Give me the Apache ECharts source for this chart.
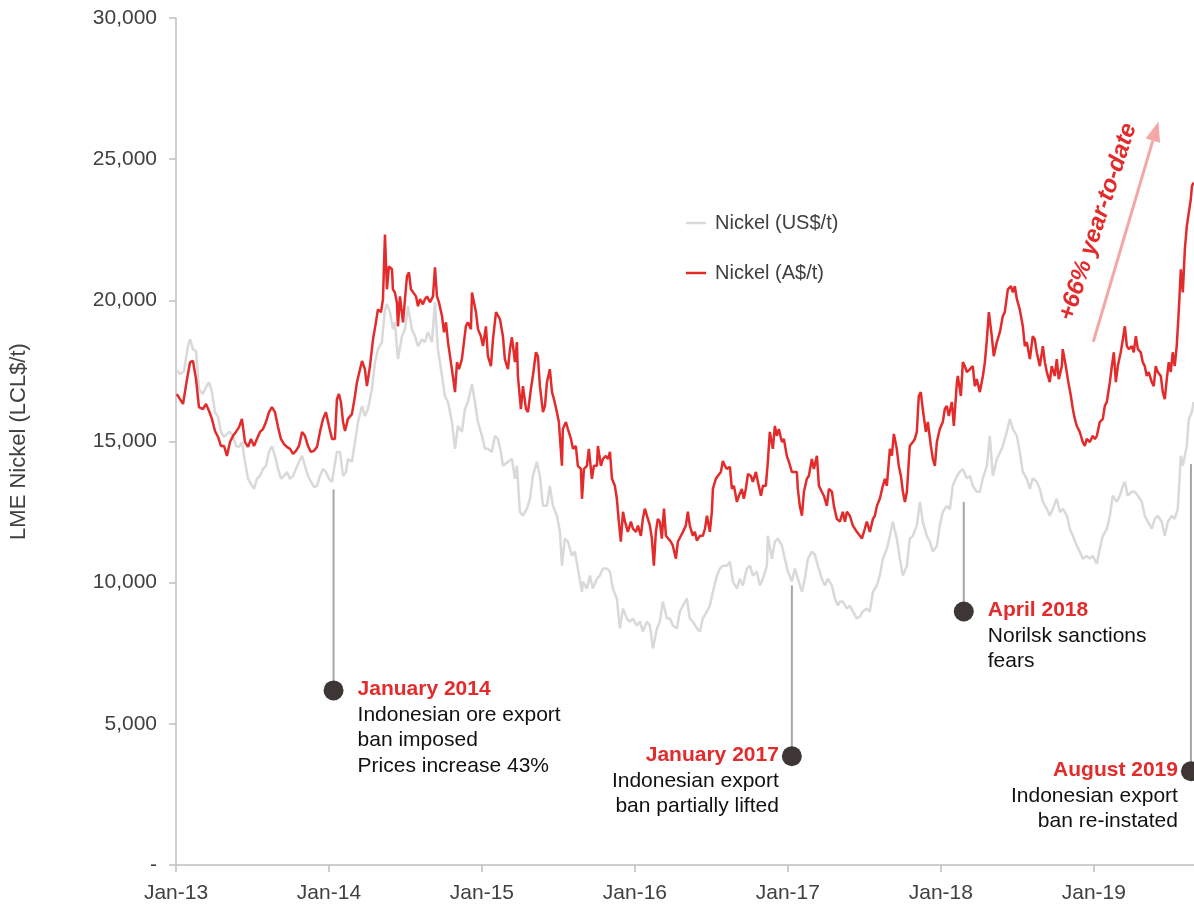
<!DOCTYPE html>
<html><head><meta charset="utf-8">
<script src="https://cdn.jsdelivr.net/npm/echarts@6/dist/echarts.min.js"></script>
<style>html,body{margin:0;padding:0;background:#fff}#c{width:1194px;height:904px}</style>
</head><body><div id="c"></div>
<script>
// ---- data (x = decimal year, y = LCL$/t) ----
const yearTicks = [2013, 2014, 2015, 2016, 2017, 2018, 2019];
const seriesNames = ['Nickel (US$/t)', 'Nickel (A$/t)'];

const usdNickel = [
[2013.000,17560],[2013.026,17390],[2013.052,17490],[2013.078,18380],[2013.092,18620],[2013.111,18270],[2013.131,18200],[2013.150,16860],[2013.176,16680],[2013.196,16930],[2013.216,17100],[2013.235,16750],[2013.255,16040],[2013.275,15870],[2013.294,15340],[2013.314,15160],[2013.333,15270],[2013.353,15340],[2013.373,15200],[2013.392,14840],[2013.412,14810],[2013.431,14980],[2013.451,14280],[2013.471,13680],[2013.490,13500],[2013.510,13320],[2013.529,13680],[2013.549,13780],[2013.569,14030],[2013.588,14140],[2013.608,14630],[2013.627,14840],[2013.647,14490],[2013.667,14030],[2013.686,13680],[2013.706,13780],[2013.725,13920],[2013.745,13680],[2013.765,13780],[2013.784,14030],[2013.804,14280],[2013.824,14490],[2013.843,14140],[2013.863,13780],[2013.882,13570],[2013.902,13390],[2013.922,13430],[2013.941,13780],[2013.961,14030],[2013.980,13920],[2014.000,13680],[2014.020,13570],[2014.033,14030],[2014.052,14630],[2014.072,14630],[2014.092,13780],[2014.111,13920],[2014.124,14380],[2014.150,14280],[2014.170,14980],[2014.190,15690],[2014.216,16260],[2014.235,15900],[2014.255,16150],[2014.281,16860],[2014.301,17810],[2014.320,18270],[2014.346,18520],[2014.366,19680],[2014.379,19860],[2014.399,19580],[2014.418,18980],[2014.431,19220],[2014.451,17920],[2014.477,18730],[2014.497,18980],[2014.516,19790],[2014.542,18980],[2014.562,18730],[2014.582,18380],[2014.608,18620],[2014.627,18520],[2014.647,18870],[2014.673,18520],[2014.693,19930],[2014.712,18270],[2014.739,17320],[2014.758,16610],[2014.778,16400],[2014.804,15690],[2014.824,14740],[2014.843,15550],[2014.869,15340],[2014.889,16150],[2014.908,16400],[2014.935,17030],[2014.954,16400],[2014.974,15690],[2015.000,15200],[2015.020,14740],[2015.039,14740],[2015.065,14630],[2015.085,15200],[2015.105,15090],[2015.124,14630],[2015.137,14140],[2015.170,14280],[2015.196,14380],[2015.216,13680],[2015.229,14140],[2015.248,12510],[2015.268,12370],[2015.294,12620],[2015.314,12970],[2015.333,13780],[2015.359,14280],[2015.379,13780],[2015.399,12720],[2015.425,12720],[2015.444,13430],[2015.464,12720],[2015.490,12370],[2015.510,11800],[2015.523,10600],[2015.542,11560],[2015.562,11450],[2015.588,10960],[2015.608,11100],[2015.627,10500],[2015.654,9680],[2015.660,10040],[2015.686,9790],[2015.706,10250],[2015.725,9790],[2015.752,10140],[2015.771,10250],[2015.791,10500],[2015.817,10500],[2015.837,10390],[2015.856,9790],[2015.882,9440],[2015.902,8380],[2015.922,9080],[2015.948,8730],[2015.967,8620],[2015.987,8730],[2016.013,8480],[2016.033,8620],[2016.052,8270],[2016.078,8620],[2016.098,8480],[2016.118,7670],[2016.144,8380],[2016.163,8620],[2016.183,9330],[2016.209,8730],[2016.229,8730],[2016.248,8480],[2016.275,8380],[2016.294,8980],[2016.314,9190],[2016.340,9440],[2016.359,8730],[2016.379,8620],[2016.405,8380],[2016.425,8270],[2016.444,8730],[2016.471,8980],[2016.490,9190],[2016.510,9680],[2016.536,10250],[2016.556,10500],[2016.575,10600],[2016.601,10600],[2016.621,10740],[2016.641,10040],[2016.667,9790],[2016.686,10140],[2016.706,9900],[2016.732,10500],[2016.752,10600],[2016.771,10250],[2016.797,10390],[2016.817,9900],[2016.837,10140],[2016.863,10600],[2016.869,11660],[2016.895,10850],[2016.915,11450],[2016.935,11560],[2016.961,11310],[2016.980,10850],[2017.000,10390],[2017.026,10040],[2017.046,10500],[2017.065,10140],[2017.092,9680],[2017.111,10140],[2017.131,10850],[2017.157,11100],[2017.176,11000],[2017.196,10600],[2017.222,10140],[2017.242,9900],[2017.261,10140],[2017.288,9900],[2017.307,9440],[2017.327,9190],[2017.340,9330],[2017.359,9330],[2017.386,9080],[2017.405,9190],[2017.425,8980],[2017.451,8730],[2017.471,8800],[2017.490,8980],[2017.516,9080],[2017.536,8980],[2017.556,9680],[2017.582,9900],[2017.601,10250],[2017.621,10850],[2017.647,11200],[2017.667,11660],[2017.686,12160],[2017.712,11560],[2017.732,10850],[2017.752,10250],[2017.778,10600],[2017.797,11560],[2017.817,11660],[2017.843,12020],[2017.863,12860],[2017.882,12160],[2017.908,11660],[2017.928,11450],[2017.948,11100],[2017.974,11300],[2017.993,12020],[2018.013,12510],[2018.039,12720],[2018.059,12600],[2018.078,13430],[2018.105,13780],[2018.124,13920],[2018.144,14030],[2018.170,13700],[2018.190,13780],[2018.209,13430],[2018.235,13220],[2018.255,13220],[2018.275,13700],[2018.301,14140],[2018.320,15200],[2018.340,13780],[2018.366,14380],[2018.386,14600],[2018.405,14840],[2018.431,15340],[2018.451,15800],[2018.471,15440],[2018.497,15200],[2018.516,14630],[2018.536,13920],[2018.562,13680],[2018.582,13320],[2018.601,13700],[2018.627,13570],[2018.647,13320],[2018.667,12860],[2018.693,12620],[2018.712,12370],[2018.732,12620],[2018.758,12970],[2018.778,12500],[2018.797,12620],[2018.824,12370],[2018.843,11910],[2018.863,11660],[2018.889,11310],[2018.908,11100],[2018.928,10850],[2018.954,10950],[2018.974,10850],[2018.993,10950],[2019.020,10670],[2019.039,11200],[2019.059,11660],[2019.085,11900],[2019.105,12370],[2019.124,13080],[2019.150,12860],[2019.170,13080],[2019.190,13430],[2019.203,13570],[2019.222,13080],[2019.248,13220],[2019.268,13220],[2019.288,13080],[2019.314,12860],[2019.333,12370],[2019.353,12160],[2019.379,11910],[2019.399,12260],[2019.418,12370],[2019.444,12160],[2019.464,11660],[2019.484,12160],[2019.510,12370],[2019.529,12260],[2019.549,12620],[2019.569,14490],[2019.582,14140],[2019.608,14840],[2019.621,15800],[2019.641,16040],[2019.652,16400]
];

const audNickel = [
[2013.005,16680],[2013.026,16500],[2013.046,16330],[2013.072,17210],[2013.092,17810],[2013.111,17850],[2013.131,17210],[2013.150,16220],[2013.176,16150],[2013.196,16330],[2013.216,16080],[2013.235,15800],[2013.255,15370],[2013.275,15160],[2013.294,14840],[2013.314,14840],[2013.333,14490],[2013.353,14980],[2013.373,15200],[2013.392,15340],[2013.412,15510],[2013.431,15800],[2013.451,14980],[2013.471,14810],[2013.490,15090],[2013.510,14840],[2013.529,15090],[2013.549,15340],[2013.569,15440],[2013.588,15690],[2013.608,16040],[2013.627,16220],[2013.647,16040],[2013.667,15510],[2013.686,15090],[2013.706,14910],[2013.725,14810],[2013.745,14740],[2013.765,14560],[2013.784,14670],[2013.804,14840],[2013.824,15340],[2013.843,15200],[2013.863,14840],[2013.882,14630],[2013.902,14670],[2013.922,14810],[2013.941,15340],[2013.961,15800],[2013.980,16040],[2014.000,15550],[2014.020,15090],[2014.039,15090],[2014.052,16500],[2014.065,16680],[2014.078,16400],[2014.092,15690],[2014.105,15370],[2014.124,15800],[2014.150,15970],[2014.170,16610],[2014.183,17100],[2014.203,17560],[2014.216,17850],[2014.235,17560],[2014.248,16960],[2014.268,17670],[2014.288,18620],[2014.307,19220],[2014.320,19680],[2014.340,19580],[2014.353,20040],[2014.366,22330],[2014.379,20390],[2014.392,21200],[2014.412,21100],[2014.418,20390],[2014.431,20280],[2014.444,19930],[2014.451,19080],[2014.464,20140],[2014.484,19220],[2014.497,20040],[2014.510,20850],[2014.523,20990],[2014.536,20390],[2014.549,20390],[2014.569,20140],[2014.582,19790],[2014.595,20040],[2014.614,19860],[2014.627,20040],[2014.641,20140],[2014.660,19930],[2014.680,20140],[2014.693,21170],[2014.706,20140],[2014.719,19930],[2014.739,19440],[2014.752,18870],[2014.765,19220],[2014.778,18520],[2014.797,17810],[2014.810,17320],[2014.824,16750],[2014.837,17810],[2014.850,17560],[2014.869,17920],[2014.882,17920],[2014.895,19080],[2014.908,19220],[2014.928,18980],[2014.935,20280],[2014.948,19930],[2014.961,19580],[2014.974,18980],[2014.993,18730],[2015.007,18380],[2015.026,19080],[2015.039,18020],[2015.059,17670],[2015.072,18620],[2015.092,19580],[2015.098,19610],[2015.118,19330],[2015.137,18730],[2015.150,17920],[2015.170,17560],[2015.183,18270],[2015.196,18690],[2015.216,17810],[2015.229,18520],[2015.235,17320],[2015.255,16150],[2015.268,16960],[2015.288,16150],[2015.301,16040],[2015.320,16860],[2015.333,17320],[2015.353,18160],[2015.366,18020],[2015.379,16960],[2015.399,16040],[2015.412,16260],[2015.425,17100],[2015.444,17560],[2015.458,16750],[2015.471,16500],[2015.490,16040],[2015.503,15690],[2015.523,14140],[2015.529,15440],[2015.549,15690],[2015.562,15440],[2015.582,15090],[2015.595,14740],[2015.614,14840],[2015.627,14140],[2015.647,14030],[2015.654,12970],[2015.667,14030],[2015.686,14140],[2015.699,14740],[2015.719,13680],[2015.732,14140],[2015.752,14140],[2015.758,14840],[2015.778,14140],[2015.791,14380],[2015.810,14490],[2015.824,14380],[2015.837,14630],[2015.850,13680],[2015.869,13430],[2015.882,12970],[2015.895,12160],[2015.908,11450],[2015.922,12510],[2015.935,12160],[2015.954,11800],[2015.974,12160],[2015.987,11910],[2016.007,11800],[2016.020,12020],[2016.039,11660],[2016.052,12260],[2016.065,12620],[2016.085,12260],[2016.098,12020],[2016.111,11560],[2016.124,10600],[2016.137,11800],[2016.150,12260],[2016.163,12160],[2016.176,11560],[2016.190,12620],[2016.203,11660],[2016.216,11660],[2016.235,11450],[2016.248,11310],[2016.268,10850],[2016.281,11450],[2016.301,11660],[2016.314,11800],[2016.333,12020],[2016.346,12510],[2016.359,12020],[2016.379,11660],[2016.392,11800],[2016.405,11490],[2016.425,11660],[2016.444,11660],[2016.458,11910],[2016.471,12370],[2016.490,11800],[2016.503,12510],[2016.510,13320],[2016.529,13680],[2016.542,13780],[2016.562,13920],[2016.575,14310],[2016.588,14140],[2016.601,14030],[2016.621,14100],[2016.634,13320],[2016.647,13430],[2016.667,12860],[2016.680,13080],[2016.699,13320],[2016.712,12970],[2016.725,13320],[2016.739,13850],[2016.758,13780],[2016.771,13570],[2016.791,13920],[2016.804,13570],[2016.824,13080],[2016.837,13430],[2016.856,13430],[2016.869,14280],[2016.882,15340],[2016.902,14740],[2016.915,15550],[2016.928,15200],[2016.941,15440],[2016.961,14980],[2016.974,15090],[2016.993,14490],[2017.007,14280],[2017.026,13920],[2017.039,13920],[2017.059,13920],[2017.065,13320],[2017.078,12720],[2017.092,12370],[2017.105,13220],[2017.124,13680],[2017.137,13780],[2017.157,14380],[2017.170,14030],[2017.190,14490],[2017.203,13430],[2017.222,13220],[2017.235,13080],[2017.255,12720],[2017.268,13320],[2017.288,13220],[2017.301,12720],[2017.320,12260],[2017.340,12160],[2017.359,12510],[2017.373,12160],[2017.386,12510],[2017.405,12370],[2017.425,12020],[2017.438,11910],[2017.451,11800],[2017.471,11660],[2017.484,11560],[2017.503,11910],[2017.516,12160],[2017.536,11800],[2017.556,12260],[2017.569,12370],[2017.582,12720],[2017.601,12970],[2017.621,13430],[2017.634,13680],[2017.647,13430],[2017.667,14740],[2017.680,14500],[2017.693,15270],[2017.712,14740],[2017.725,14140],[2017.739,13780],[2017.752,13220],[2017.765,12860],[2017.778,13220],[2017.797,14840],[2017.817,14980],[2017.830,15090],[2017.843,15340],[2017.856,16610],[2017.869,16750],[2017.882,16150],[2017.902,15340],[2017.915,15690],[2017.935,14840],[2017.948,14380],[2017.961,14140],[2017.974,14980],[2017.993,15440],[2018.013,15690],[2018.026,16150],[2018.039,16260],[2018.052,15900],[2018.072,16400],[2018.085,15550],[2018.105,17100],[2018.111,17320],[2018.131,16610],[2018.144,17810],[2018.157,17670],[2018.170,17460],[2018.190,17560],[2018.209,17670],[2018.222,16960],[2018.235,17210],[2018.255,16750],[2018.275,17320],[2018.288,17810],[2018.301,18620],[2018.314,19580],[2018.333,18730],[2018.346,18020],[2018.366,18520],[2018.386,18870],[2018.405,19440],[2018.418,19580],[2018.438,20390],[2018.458,20500],[2018.471,20280],[2018.484,20500],[2018.497,20040],[2018.516,19680],[2018.536,19080],[2018.549,18380],[2018.562,18520],[2018.582,17920],[2018.601,18730],[2018.614,18620],[2018.627,18160],[2018.647,17670],[2018.667,18380],[2018.680,17810],[2018.693,17460],[2018.712,17100],[2018.725,17670],[2018.745,17320],[2018.758,17920],[2018.771,17210],[2018.791,17670],[2018.797,18270],[2018.817,17670],[2018.830,17210],[2018.850,16610],[2018.863,16150],[2018.876,15800],[2018.889,15550],[2018.908,15340],[2018.928,14980],[2018.941,14840],[2018.954,15090],[2018.974,14980],[2018.993,15200],[2019.007,15090],[2019.020,15200],[2019.039,15690],[2019.059,15800],[2019.072,16260],[2019.085,16400],[2019.105,17100],[2019.118,17670],[2019.131,18160],[2019.144,17100],[2019.157,17670],[2019.176,18160],[2019.190,18620],[2019.203,19080],[2019.216,18380],[2019.229,18270],[2019.248,18380],[2019.261,18160],[2019.275,18730],[2019.288,18270],[2019.307,18160],[2019.320,17810],[2019.333,17670],[2019.346,17320],[2019.359,17460],[2019.379,17100],[2019.392,16960],[2019.405,17670],[2019.418,17460],[2019.438,17320],[2019.451,16750],[2019.464,16500],[2019.477,17210],[2019.490,17810],[2019.503,17460],[2019.516,18160],[2019.529,17670],[2019.542,18380],[2019.556,19680],[2019.569,21100],[2019.582,20280],[2019.595,21800],[2019.608,22620],[2019.621,23110],[2019.634,23570],[2019.641,24030],[2019.652,24170]
];

// event annotations: x = decimal year, top/dot = value where the leader line starts / dot sits
const notes = [
  { t: 2014.030, top: 13300, dot: 6185, side: 'right', title: 'January 2014', lines: ['Indonesian ore export', 'ban imposed', 'Prices increase 43%'] },
  { t: 2017.026, top: 9900,  dot: 3850, side: 'left',  title: 'January 2017', lines: ['Indonesian export', 'ban partially lifted'] },
  { t: 2018.150, top: 12860, dot: 8980, side: 'right', title: 'April 2018',   lines: ['Norilsk sanctions', 'fears'] },
  { t: 2019.635, top: 14200, dot: 3320, side: 'left',  title: 'August 2019',  lines: ['Indonesian export', 'ban re-instated'] }
];
const ytdLabel = '+66% year-to-date';

// ---- chart ----
const F = "'Liberation Sans', Arial, sans-serif";
const FN = "'Liberation Sans Narrow', 'Arial Narrow', 'Liberation Sans', sans-serif";
const RED = '#e32b2b', GREY = '#d9d9d9', AXIS = '#bfbfbf', TXT = '#404040';

const chart = echarts.init(document.getElementById('c'), null, { renderer: 'canvas' });
chart.setOption({
  animation: false,
  backgroundColor: '#fff',
  grid: { left: 176, right: 0, top: 18, bottom: 37, containLabel: false },
  legend: {
    orient: 'vertical', left: 681, top: 208, itemGap: 30,
    icon: 'rect', itemWidth: 20, itemHeight: 2.5,
    data: seriesNames,
    textStyle: { fontFamily: F, fontSize: 20, color: TXT, padding: [0, 0, 0, 4] }
  },
  xAxis: {
    type: 'value', min: 2013, max: 2019.655, interval: 1,
    splitLine: { show: false },
    axisLine: { show: true, lineStyle: { color: AXIS, width: 1.5 } },
    axisTick: { show: true, length: 7, customValues: yearTicks, lineStyle: { color: AXIS, width: 1.5 } },
    axisLabel: {
      customValues: yearTicks, margin: 18,
      fontFamily: FN, fontSize: 21, color: TXT,
      formatter: v => 'Jan-' + String(Math.round(v)).slice(2)
    }
  },
  yAxis: {
    type: 'value', min: 0, max: 30000, interval: 5000,
    name: 'LME Nickel (LCL$/t)', nameLocation: 'middle', nameGap: 146, nameRotate: 90,
    nameTextStyle: { fontFamily: FN, fontSize: 22, color: TXT },
    splitLine: { show: false },
    axisLine: { show: true, lineStyle: { color: AXIS, width: 1.5 } },
    axisTick: { show: true, length: 7, lineStyle: { color: AXIS, width: 1.5 } },
    axisLabel: {
      margin: 19, fontFamily: F, fontSize: 21, color: TXT,
      formatter: v => v === 0 ? '-' : String(v).replace(/\B(?=(\d{3})+(?!\d))/g, ',')
    }
  },
  series: [
    { name: seriesNames[0], type: 'line', data: usdNickel, showSymbol: false, symbol: 'none',
      lineStyle: { color: GREY, width: 2.5 }, itemStyle: { color: GREY }, z: 2 },
    { name: seriesNames[1], type: 'line', data: audNickel, showSymbol: false, symbol: 'none',
      lineStyle: { color: RED, width: 2.5 }, itemStyle: { color: RED }, z: 3 }
  ]
});

function px(t, v) { return chart.convertToPixel({ gridIndex: 0 }, [t, v]); }

const els = [];
notes.forEach(n => {
  const [x, yTop] = px(n.t, n.top);
  const [, yDot] = px(n.t, n.dot);
  els.push({ type: 'line', z: 10, shape: { x1: x, y1: yTop, x2: x, y2: yDot }, style: { stroke: '#a6a6a6', lineWidth: 2 } });
  els.push({ type: 'circle', z: 11, shape: { cx: x, cy: yDot, r: 10 }, style: { fill: '#3d3635' } });
  const right = n.side === 'right';
  const tx = right ? x + 24 : x - 13;
  const al = right ? 'left' : 'right';
  els.push({ type: 'text', z: 12, x: tx, y: yDot - 1,
    style: { text: n.title, font: 'bold 21px ' + F, fill: RED, align: al, verticalAlign: 'middle', textAlign: al, textVerticalAlign: 'middle' } });
  n.lines.forEach((s, i) => {
    els.push({ type: 'text', z: 12, x: tx, y: yDot - 1 + 25.5 * (i + 1),
      style: { text: s, font: '21px ' + F, fill: '#111', align: al, verticalAlign: 'middle', textAlign: al, textVerticalAlign: 'middle' } });
  });
});

// "+66% year-to-date" arrow and label
const a0 = [1093.3, 341.7], tip = [1158.5, 121.5];
const dx = tip[0] - a0[0], dy = tip[1] - a0[1], L = Math.hypot(dx, dy);
const ux = dx / L, uy = dy / L, hl = 20, hw = 7.5;
const bc = [tip[0] - ux * hl, tip[1] - uy * hl];
els.push({ type: 'line', z: 9, shape: { x1: a0[0], y1: a0[1], x2: bc[0], y2: bc[1] }, style: { stroke: '#f4a7a7', lineWidth: 3 } });
els.push({ type: 'polygon', z: 9, shape: { points: [tip, [bc[0] - uy * hw, bc[1] + ux * hw], [bc[0] + uy * hw, bc[1] - ux * hw]] }, style: { fill: '#f4a7a7' } });
els.push({ type: 'text', z: 12, x: 1098, y: 222, rotation: 72 * Math.PI / 180,
  style: { text: ytdLabel, font: 'italic bold 24px ' + F, fill: RED, align: 'center', verticalAlign: 'middle', textAlign: 'center', textVerticalAlign: 'middle' } });

chart.setOption({ graphic: { elements: els } });
</script>
</body></html>
